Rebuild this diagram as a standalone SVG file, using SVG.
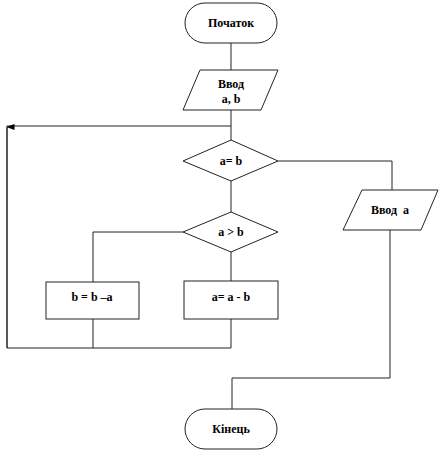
<svg xmlns="http://www.w3.org/2000/svg" width="443" height="451" viewBox="0 0 443 451">
<style>
.s{fill:#fff;stroke:#222;stroke-width:1}
.c{fill:none;stroke:#222;stroke-width:1}
text{font-family:"Liberation Serif","Times New Roman",serif;font-weight:bold;font-size:12px;fill:#000;text-anchor:middle}
</style>
<defs>
<marker id="ah" markerWidth="6" markerHeight="8" refX="3" refY="0.5" orient="auto-start-reverse" markerUnits="userSpaceOnUse" viewBox="0 0 6 8">
<path d="M0,8 L3,0 L6,8 Z" fill="#000"/>
</marker>
</defs>
<rect width="443" height="451" fill="#fff"/>
<g id="connectors">
<path class="c" d="M231,43 V70"/>
<path class="c" d="M231,110 V140"/>
<path class="c" d="M231,126 H7 V348"/>
<path class="c" d="M7,348 V127" marker-end="url(#ah)"/>
<path class="c" d="M278,161 H392 V190"/>
<path class="c" d="M231,181 V212"/>
<path class="c" d="M183,232 H93 V282"/>
<path class="c" d="M231,252 V281"/>
<path class="c" d="M93,319 V348"/>
<path class="c" d="M231,319 V348 H7"/>
<path class="c" d="M390,230 V378 H232 V409"/>
</g>
<g id="start">
<rect class="s" x="185" y="3" width="92" height="40" rx="20" ry="20"/>
<text x="231" y="27">Початок</text>
</g>
<g id="input1">
<polygon class="s" points="200,70 278,70 261,110 183,110"/>
<text x="231" y="88">Ввод</text>
<text x="231" y="103">a, b</text>
</g>
<g id="cond1">
<polygon class="s" points="231,140 278,161 231,181 183,161"/>
<text x="231" y="165">a= b</text>
</g>
<g id="output">
<polygon class="s" points="362,190 438,190 421,230 343,230"/>
<text x="390" y="214" xml:space="preserve">Ввод  a</text>
</g>
<g id="cond2">
<polygon class="s" points="231,212 278,232 231,252 183,232"/>
<text x="231" y="236">a &gt; b</text>
</g>
<g id="left">
<rect class="s" x="46" y="282" width="93" height="37"/>
<text x="92" y="301">b = b –a</text>
</g>
<g id="right">
<rect class="s" x="184" y="281" width="94" height="38"/>
<text x="231" y="301">a= a - b</text>
</g>
<g id="end">
<rect class="s" x="185" y="409" width="92" height="40" rx="20" ry="20"/>
<text x="231" y="433">Кінець</text>
</g>
</svg>
